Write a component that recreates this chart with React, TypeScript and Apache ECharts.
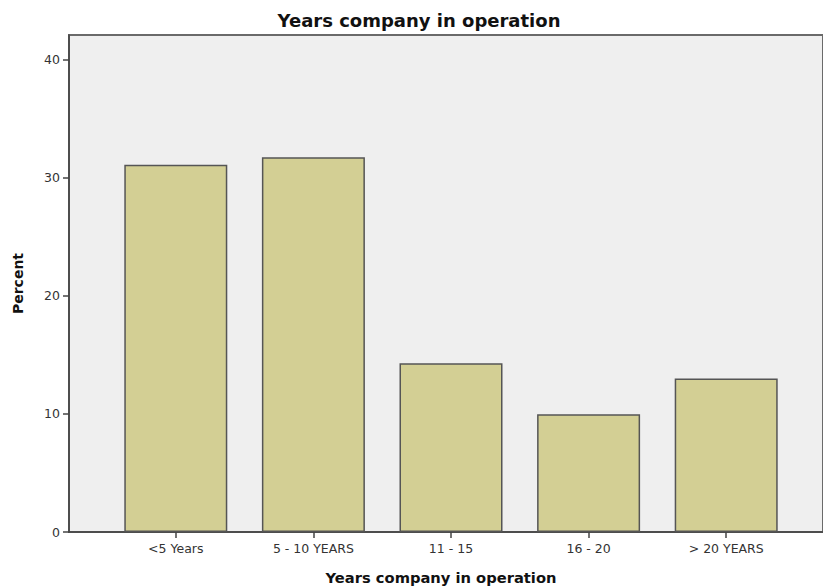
import React, { useEffect, useRef } from "react";
import * as echarts from "echarts";

const categories = ["<5 Years", "5 - 10 YEARS", "11 - 15", "16 - 20", "> 20 YEARS"];
const percents = [31.1, 31.75, 14.3, 9.97, 13.0];
const yTicks = [0, 10, 20, 30, 40];
const titleText = "Years company in operation";
const xName = "Years company in operation";
const yName = "Percent";

export default function App() {
  const ref = useRef<HTMLDivElement>(null);
  useEffect(() => {
    if (!ref.current) return;
    const chart = echarts.init(ref.current, undefined, { renderer: "svg" });
    const yMax = 42.1;
    chart.setOption({
      animation: false,
      backgroundColor: "#ffffff",
      title: [
        {
          text: titleText,
          left: 414,
          top: 6,
          textAlign: "center",
          textStyle: { fontFamily: "DejaVu Sans", fontWeight: "bold", fontSize: 18, color: "#111" },
        },
        {
          text: xName,
          left: 436,
          top: 565,
          textAlign: "center",
          textStyle: { fontFamily: "DejaVu Sans", fontWeight: "bold", fontSize: 14.7, color: "#111" },
        },
      ],
      grid: [
        {
          left: 69,
          right: -10,
          top: 35,
          bottom: 56,
          show: true,
          backgroundColor: "#efefef",
          borderColor: "#6a6a6a",
          borderWidth: 2,
        },
        { left: 107, right: 28, top: 35, bottom: 56 },
      ],
      xAxis: [
        {
          type: "value",
          gridIndex: 0,
          min: 0,
          max: 1,
          axisLine: { show: true, onZero: false, lineStyle: { color: "#444", width: 1.5 } },
          axisTick: { show: false },
          axisLabel: { show: false },
          splitLine: { show: false },
        },
        {
          type: "category",
          gridIndex: 1,
          data: categories,
          axisLine: { show: false },
          axisTick: { show: true, alignWithLabel: true, length: 6, lineStyle: { color: "#444", width: 1.5 } },
          axisLabel: { fontFamily: "DejaVu Sans", fontSize: 12.5, color: "#333", margin: 10 },
        },
      ],
      yAxis: [
        {
          type: "value",
          gridIndex: 0,
          min: 0,
          max: yMax,
          interval: 10,
          name: yName,
          nameLocation: "middle",
          nameGap: 44,
          nameTextStyle: { fontFamily: "DejaVu Sans", fontWeight: "bold", fontSize: 14, color: "#111" },
          axisLine: { show: true, lineStyle: { color: "#444", width: 1.5 } },
          axisTick: { show: true, length: 6, lineStyle: { color: "#444", width: 1.5 } },
          axisLabel: {
            fontFamily: "DejaVu Sans",
            fontSize: 12.5,
            color: "#333",
            margin: 9,
            showMaxLabel: false,
            formatter: (v: number) => (yTicks.includes(v) ? String(v) : ""),
          },
          splitLine: { show: false },
        },
        { type: "value", gridIndex: 1, min: 0, max: yMax, show: false },
      ],
      series: [
        {
          type: "bar",
          xAxisIndex: 1,
          yAxisIndex: 1,
          data: percents,
          barWidth: 103,
          itemStyle: { color: "#d3cf94", borderColor: "#555", borderWidth: 1.5 },
        },
      ],
    });
    return () => chart.dispose();
  }, []);
  return <div ref={ref} style={{ width: 823, height: 588, position: "absolute", left: 0, top: 0 }} />;
}
